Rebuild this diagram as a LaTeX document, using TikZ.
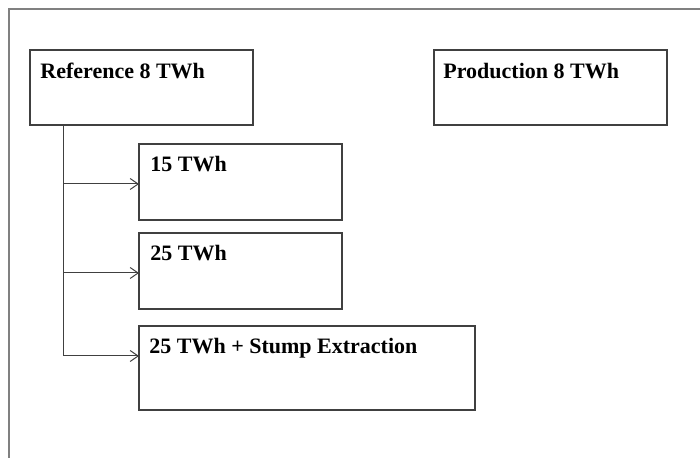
\documentclass[tikz,border=0pt]{standalone}
\usepackage{fontspec}
\setmainfont{Liberation Serif}
\usetikzlibrary{arrows.meta}
\begin{document}
\begin{tikzpicture}[x=0.5pt,y=-0.5pt,
  boxnode/.style={draw=black!75,line width=0.6pt,inner sep=0pt,outer sep=0pt,fill=white},
  lbl/.style={anchor=base west,inner sep=0pt,font=\fontsize{11}{13}\selectfont\bfseries},
  conn/.style={draw=black!75,line width=0.5pt},
  arr/.style={conn,-{Straight Barb[length=4pt,width=5.5pt]}}]
\useasboundingbox (0,0) rectangle (700,458);
\draw[black!50,line width=1pt] (700,9) -- (9,9) -- (9,458);
\node[boxnode,minimum width=111.5pt,minimum height=37.5pt] (ref) at (141.5,87.5) {};
\node[boxnode,minimum width=116.5pt,minimum height=37.5pt] (prod) at (550.5,87.5) {};
\node[boxnode,minimum width=101.5pt,minimum height=38pt] (b15) at (240.5,182) {};
\node[boxnode,minimum width=101.5pt,minimum height=38pt] (b25) at (240.5,271) {};
\node[boxnode,minimum width=168pt,minimum height=42pt] (bst) at (307,368) {};
\node[lbl] (tref) at ([shift={(5pt,-14.5pt)}]ref.north west) {Reference 8 TWh};
\node[lbl] (tprod) at ([shift={(4.5pt,-14.5pt)}]prod.north west) {Production 8 TWh};
\node[lbl] (t15) at ([shift={(5.5pt,-14pt)}]b15.north west) {15 TWh};
\node[lbl] (t25) at ([shift={(5.5pt,-14pt)}]b25.north west) {25 TWh};
\node[lbl] (tst) at ([shift={(5pt,-14pt)}]bst.north west) {25 TWh + Stump Extraction};
\coordinate (j1) at (63,184);
\coordinate (j2) at (63,273);
\coordinate (j3) at (63,356);
\draw[conn] (j1 |- ref.south) -- (j3);
\draw[arr] (j1) -- (j1 -| b15.west);
\draw[arr] (j2) -- (j2 -| b25.west);
\draw[arr] (j3) -- (j3 -| bst.west);
\end{tikzpicture}
\end{document}
